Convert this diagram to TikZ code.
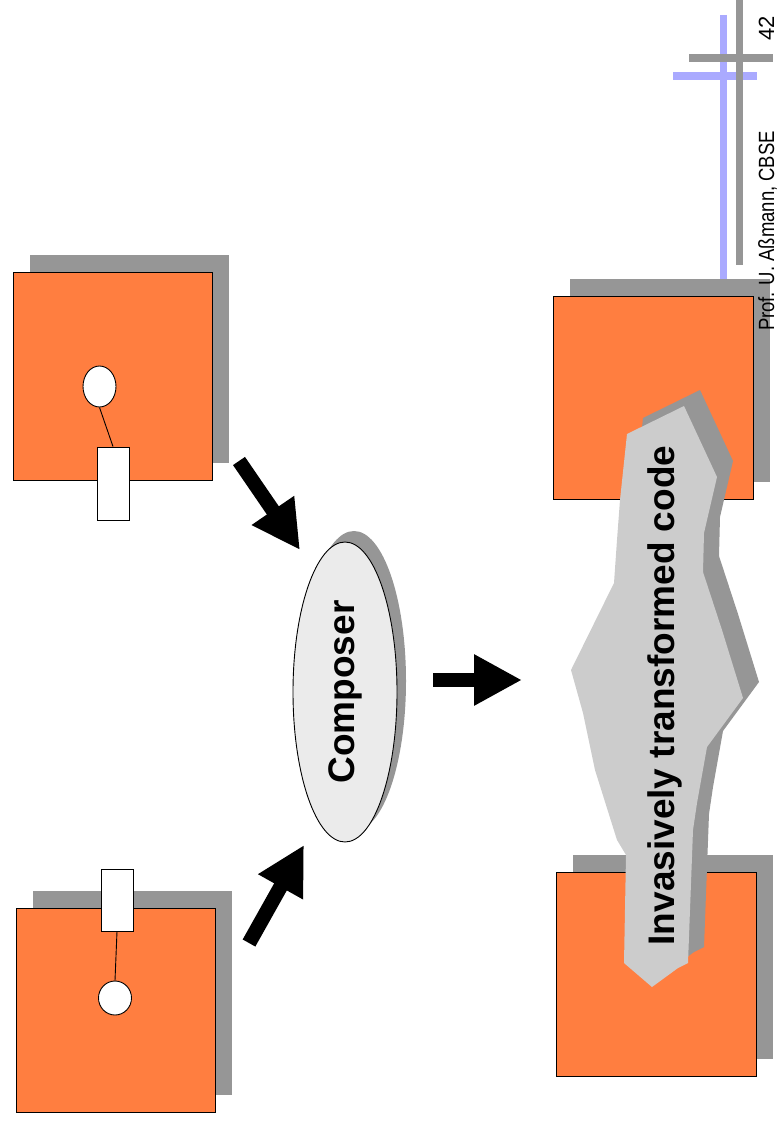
\documentclass[tikz,border=0pt]{standalone}
\usepackage{fontspec}
\setmainfont{Liberation Sans}
\newfontfamily\narrowsans[FakeStretch=0.84]{Liberation Sans}
\usetikzlibrary{arrows.meta,shapes.geometric,shadows}
\definecolor{boxorange}{RGB}{255,126,64}
\definecolor{shadowgray}{RGB}{150,150,150}
\definecolor{blobgray}{RGB}{204,204,204}
\definecolor{composergray}{RGB}{235,235,235}
\definecolor{lineblue}{RGB}{170,170,255}
\begin{document}
\begin{tikzpicture}[x=1pt,y=-1pt,line cap=butt,line join=miter,font=\bfseries\fontsize{37}{44}\selectfont]
            \tikzset{shade box/.style={drop shadow={shadow xshift=17pt,shadow yshift=17pt,fill=shadowgray,opacity=1}},
                comp/.style={draw,line width=.9pt,fill=boxorange,minimum width=199pt,inner sep=0pt,shade box},
                hook/.style={draw,line width=.9pt,fill=white,ellipse,inner sep=0pt},
                slot/.style={draw,line width=.9pt,fill=white,inner sep=0pt,minimum width=32pt},
                fat/.style={line width=14.5pt,-{Triangle[length=48pt,width=48pt]}},
                blob/.style={fill=blobgray,drop shadow={shadow xshift=16pt,shadow yshift=16pt,fill=shadowgray,opacity=1}}
            }
            \useasboundingbox (0,0) rectangle (778,1121);
            % header bars
            \draw[lineblue,line width=7pt] (723,15)--(723,280);
            \draw[lineblue,line width=8pt] (673,76)--(757,76);
            \draw[shadowgray,line width=7pt] (739,0)--(739,265);
            \draw[shadowgray,line width=8pt] (689,58)--(773,58);
            % components
            \node[comp,minimum height=208pt] (compA) at (112.5,376) {};
            \node[hook,minimum width=33pt,minimum height=41pt] (hookA) at (99.5,386.5) {};
            \node[slot,minimum height=73pt] (slotA) at (113,483.5) {};
            \draw[line width=.9pt] (hookA.south)--(slotA.north);
            \node[comp,minimum height=204pt] (compB) at (115.5,1010) {};
            \node[slot,minimum height=62pt] (slotB) at (117,900) {};
            \node[hook,minimum width=33pt,minimum height=34pt] (hookB) at (115,998) {};
            \draw[line width=.9pt] (slotB.south)--(hookB.north);
            \node[ellipse,draw,line width=.9pt,fill=composergray,minimum width=300pt,minimum height=104pt,inner sep=0pt,rotate=90,
                drop shadow={shadow xshift=9pt,shadow yshift=11pt,fill=shadowgray,opacity=1}] (composer) at (345,692) {Composer};
            % arrows
            \coordinate (inA) at (239,461); \coordinate (tipA) at (300,550);
            \coordinate (inB) at (249,943); \coordinate (tipB) at (304,845);
            \coordinate (outC) at (433,680); \coordinate (tipC) at (522,680);
            \draw[fat] (inA)--(tipA);
            \draw[fat] (inB)--(tipB);
            \draw[fat] (outC)--(tipC);
            % result
            \node[comp,minimum width=200pt,minimum height=203pt] (resA) at (653,397.5) {};
            \node[comp,minimum width=200pt,minimum height=204pt] (resB) at (656,974) {};
            \path[blob] (684,406)--(717,477)--(704,533)--(703,572)--(722,630)--(743,698)--(707,747)--(697,803)--(693,830)
            --(688,963)--(678,968)--(652,987)--(624,963)--(626,855)--(617,840)--(595,770)--(583,713)--(571,670)
            --(614,583)--(617,540)--(620,500)--(627,434)--cycle;
            \node[rotate=90,anchor=base] (code) at (674,695.5) {Invasively transformed code};
            \node[rotate=90,anchor=base,font=\fontsize{22}{26}\selectfont] (pageno) at (774,28) {42};
            \node[rotate=90,anchor=base,font=\narrowsans\fontsize{22}{26}\selectfont] (author) at (774,231) {Prof. U. Aßmann, CBSE};
    \end{tikzpicture}
\end{document}
